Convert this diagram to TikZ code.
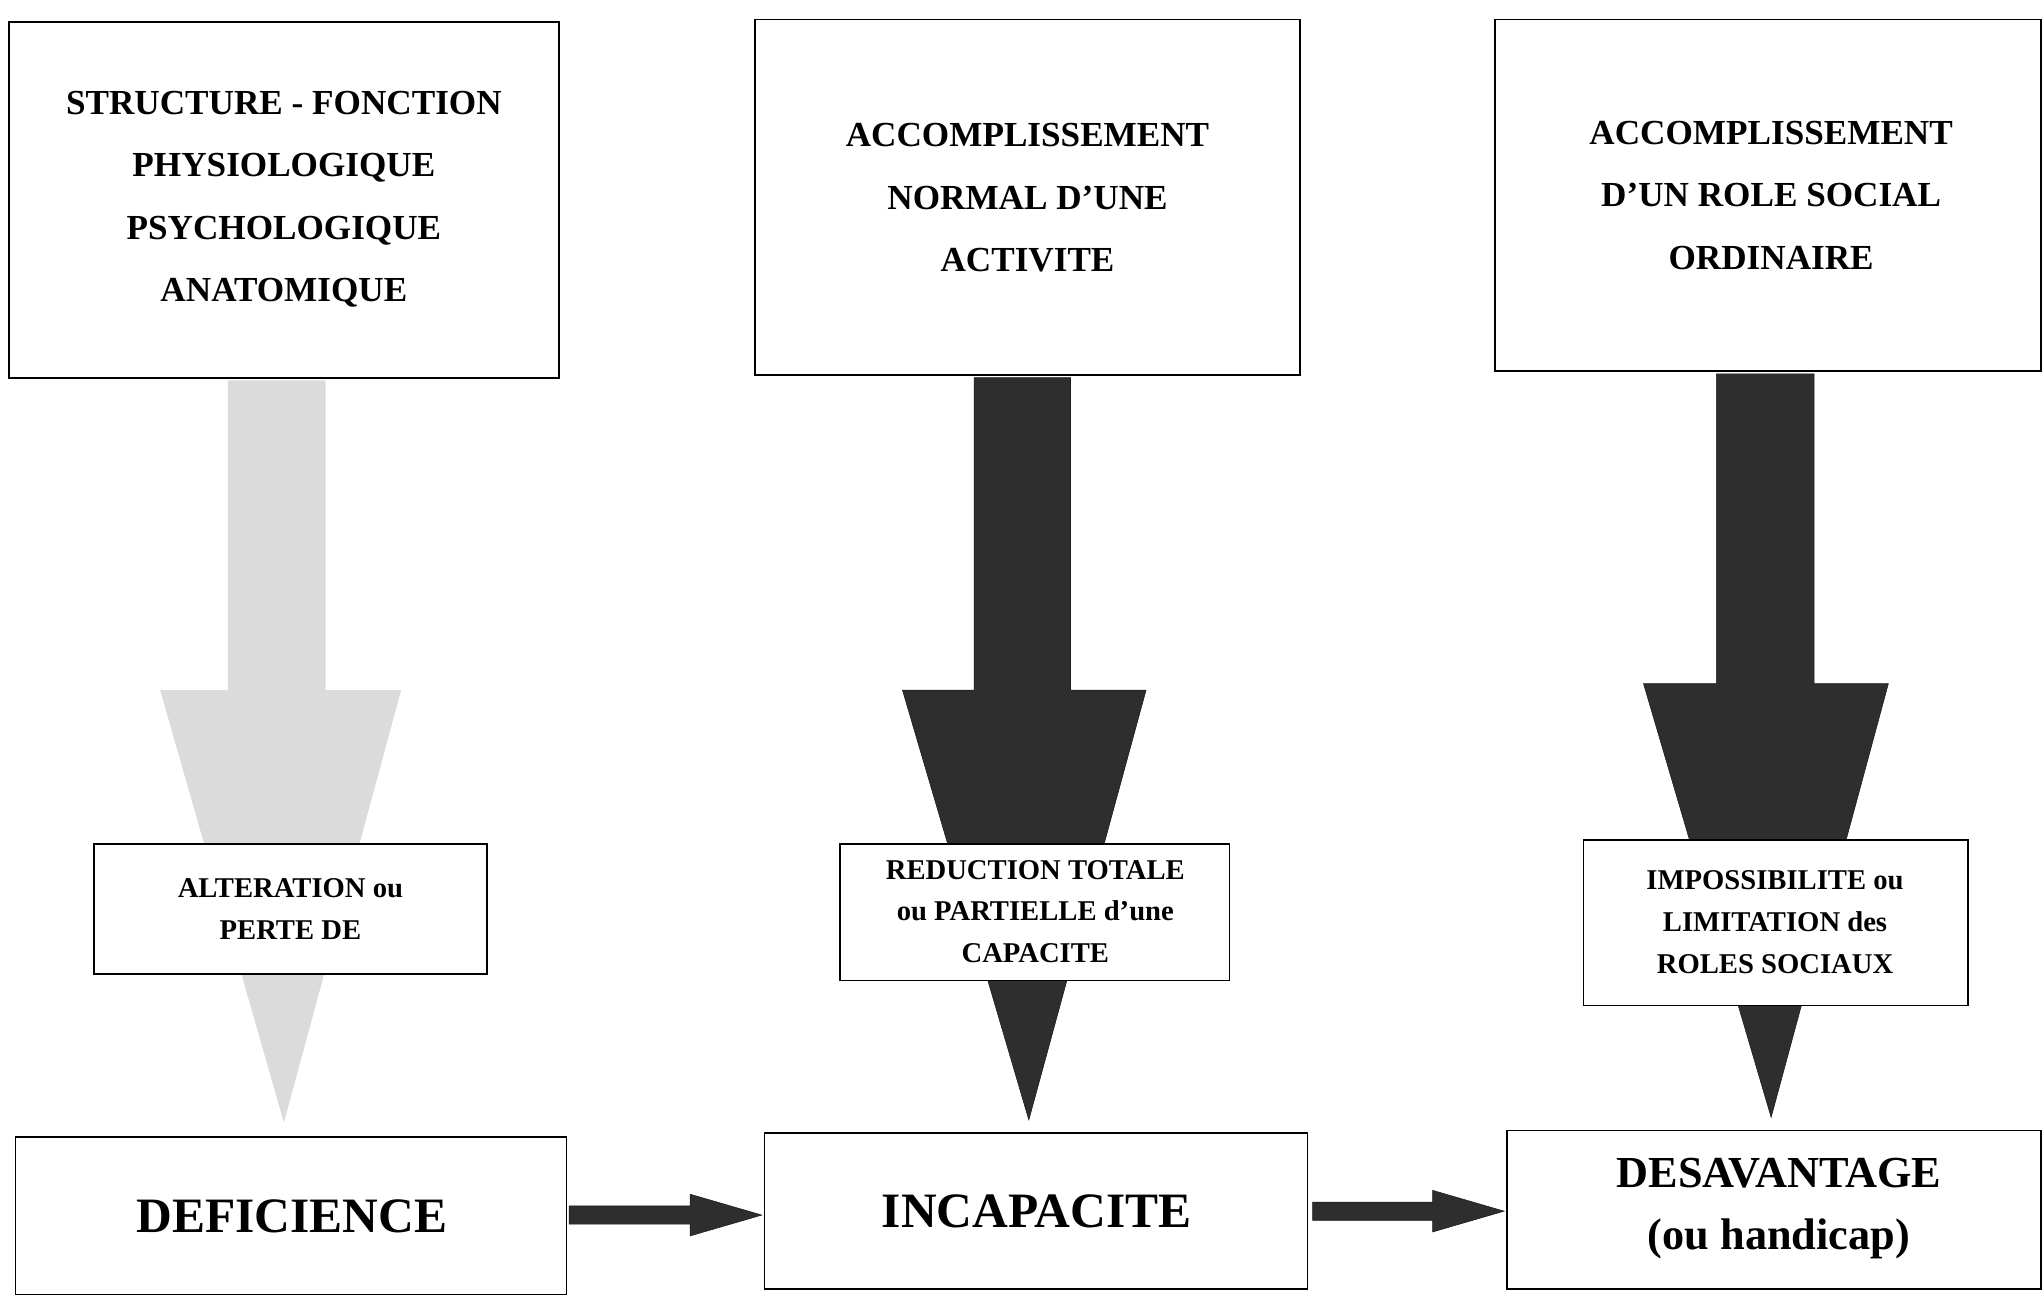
\documentclass[tikz,border=0pt]{standalone}
\usepackage{fontspec}
\setmainfont{Liberation Serif}
\begin{document}
\begin{tikzpicture}[x=1pt,y=-1pt,
 box/.style={draw,line width=1.3pt,fill=white,inner sep=0pt},
 top/.style={font=\bfseries\fontsize{27}{48}\selectfont,align=center},
 mid/.style={font=\bfseries\fontsize{22}{32}\selectfont,align=center},
 bot/.style={font=\bfseries\fontsize{38}{48}\selectfont,align=center},
 dark/.style={fill=black!82,draw=black!90},
 light/.style={fill=black!14,draw=none}]
\useasboundingbox (0,0) rectangle (1568,997);
% top boxes
\draw[box] (7,17) rectangle (429,290);
\node[top] (t1) at (218,153) {STRUCTURE - FONCTION\\PHYSIOLOGIQUE\\PSYCHOLOGIQUE\\ANATOMIQUE};
\draw[box] (580,15) rectangle (998,288);
\node[top] (t2) at (789,152) {ACCOMPLISSEMENT\\NORMAL D'UNE\\ACTIVITE};
\draw[box] (1148,15) rectangle (1567,285);
\node[top] (t3) at (1360,150) {ACCOMPLISSEMENT\\D'UN ROLE SOCIAL\\ORDINAIRE};
% vertical arrows
\path[light] (175,292) -- (250,292) -- (250,530) -- (308,530) -- (218,862) -- (123,530) -- (175,530) -- cycle;
\path[dark] (748,290) -- (822,290) -- (822,530) -- (880,530) -- (790,860) -- (693,530) -- (748,530) -- cycle;
\path[dark] (1318,287) -- (1393,287) -- (1393,525) -- (1450,525) -- (1360,858) -- (1262,525) -- (1318,525) -- cycle;
% middle boxes
\draw[box] (72,648) rectangle (374,748);
\node[mid] (m1) at (223,698) {ALTERATION ou\\PERTE DE};
\draw[box] (645,648) rectangle (944,753);
\node[mid] (m2) at (795,700) {REDUCTION TOTALE\\ou PARTIELLE d'une\\CAPACITE};
\draw[box] (1216,645) rectangle (1511,772);
\node[mid] (m3) at (1363,708) {IMPOSSIBILITE ou\\LIMITATION des\\ROLES SOCIAUX};
% bottom boxes
\draw[box] (12,873) rectangle (435,994);
\node[bot] (b1) at (224,934) {DEFICIENCE};
\draw[box] (587,870) rectangle (1004,990);
\node[bot] (b2) at (796,930) {INCAPACITE};
\draw[box] (1157,868) rectangle (1567,990);
\node[bot,font=\bfseries\fontsize{34}{48}\selectfont] (b3) at (1366,928) {DESAVANTAGE\\(ou handicap)};
% horizontal arrows
\path[dark] (437,926) -- (530,926) -- (530,917) -- (585,933) -- (530,949) -- (530,940) -- (437,940) -- cycle;
\path[dark] (1008,923) -- (1100,923) -- (1100,914) -- (1155,930) -- (1100,946) -- (1100,937) -- (1008,937) -- cycle;
\end{tikzpicture}
\end{document}
